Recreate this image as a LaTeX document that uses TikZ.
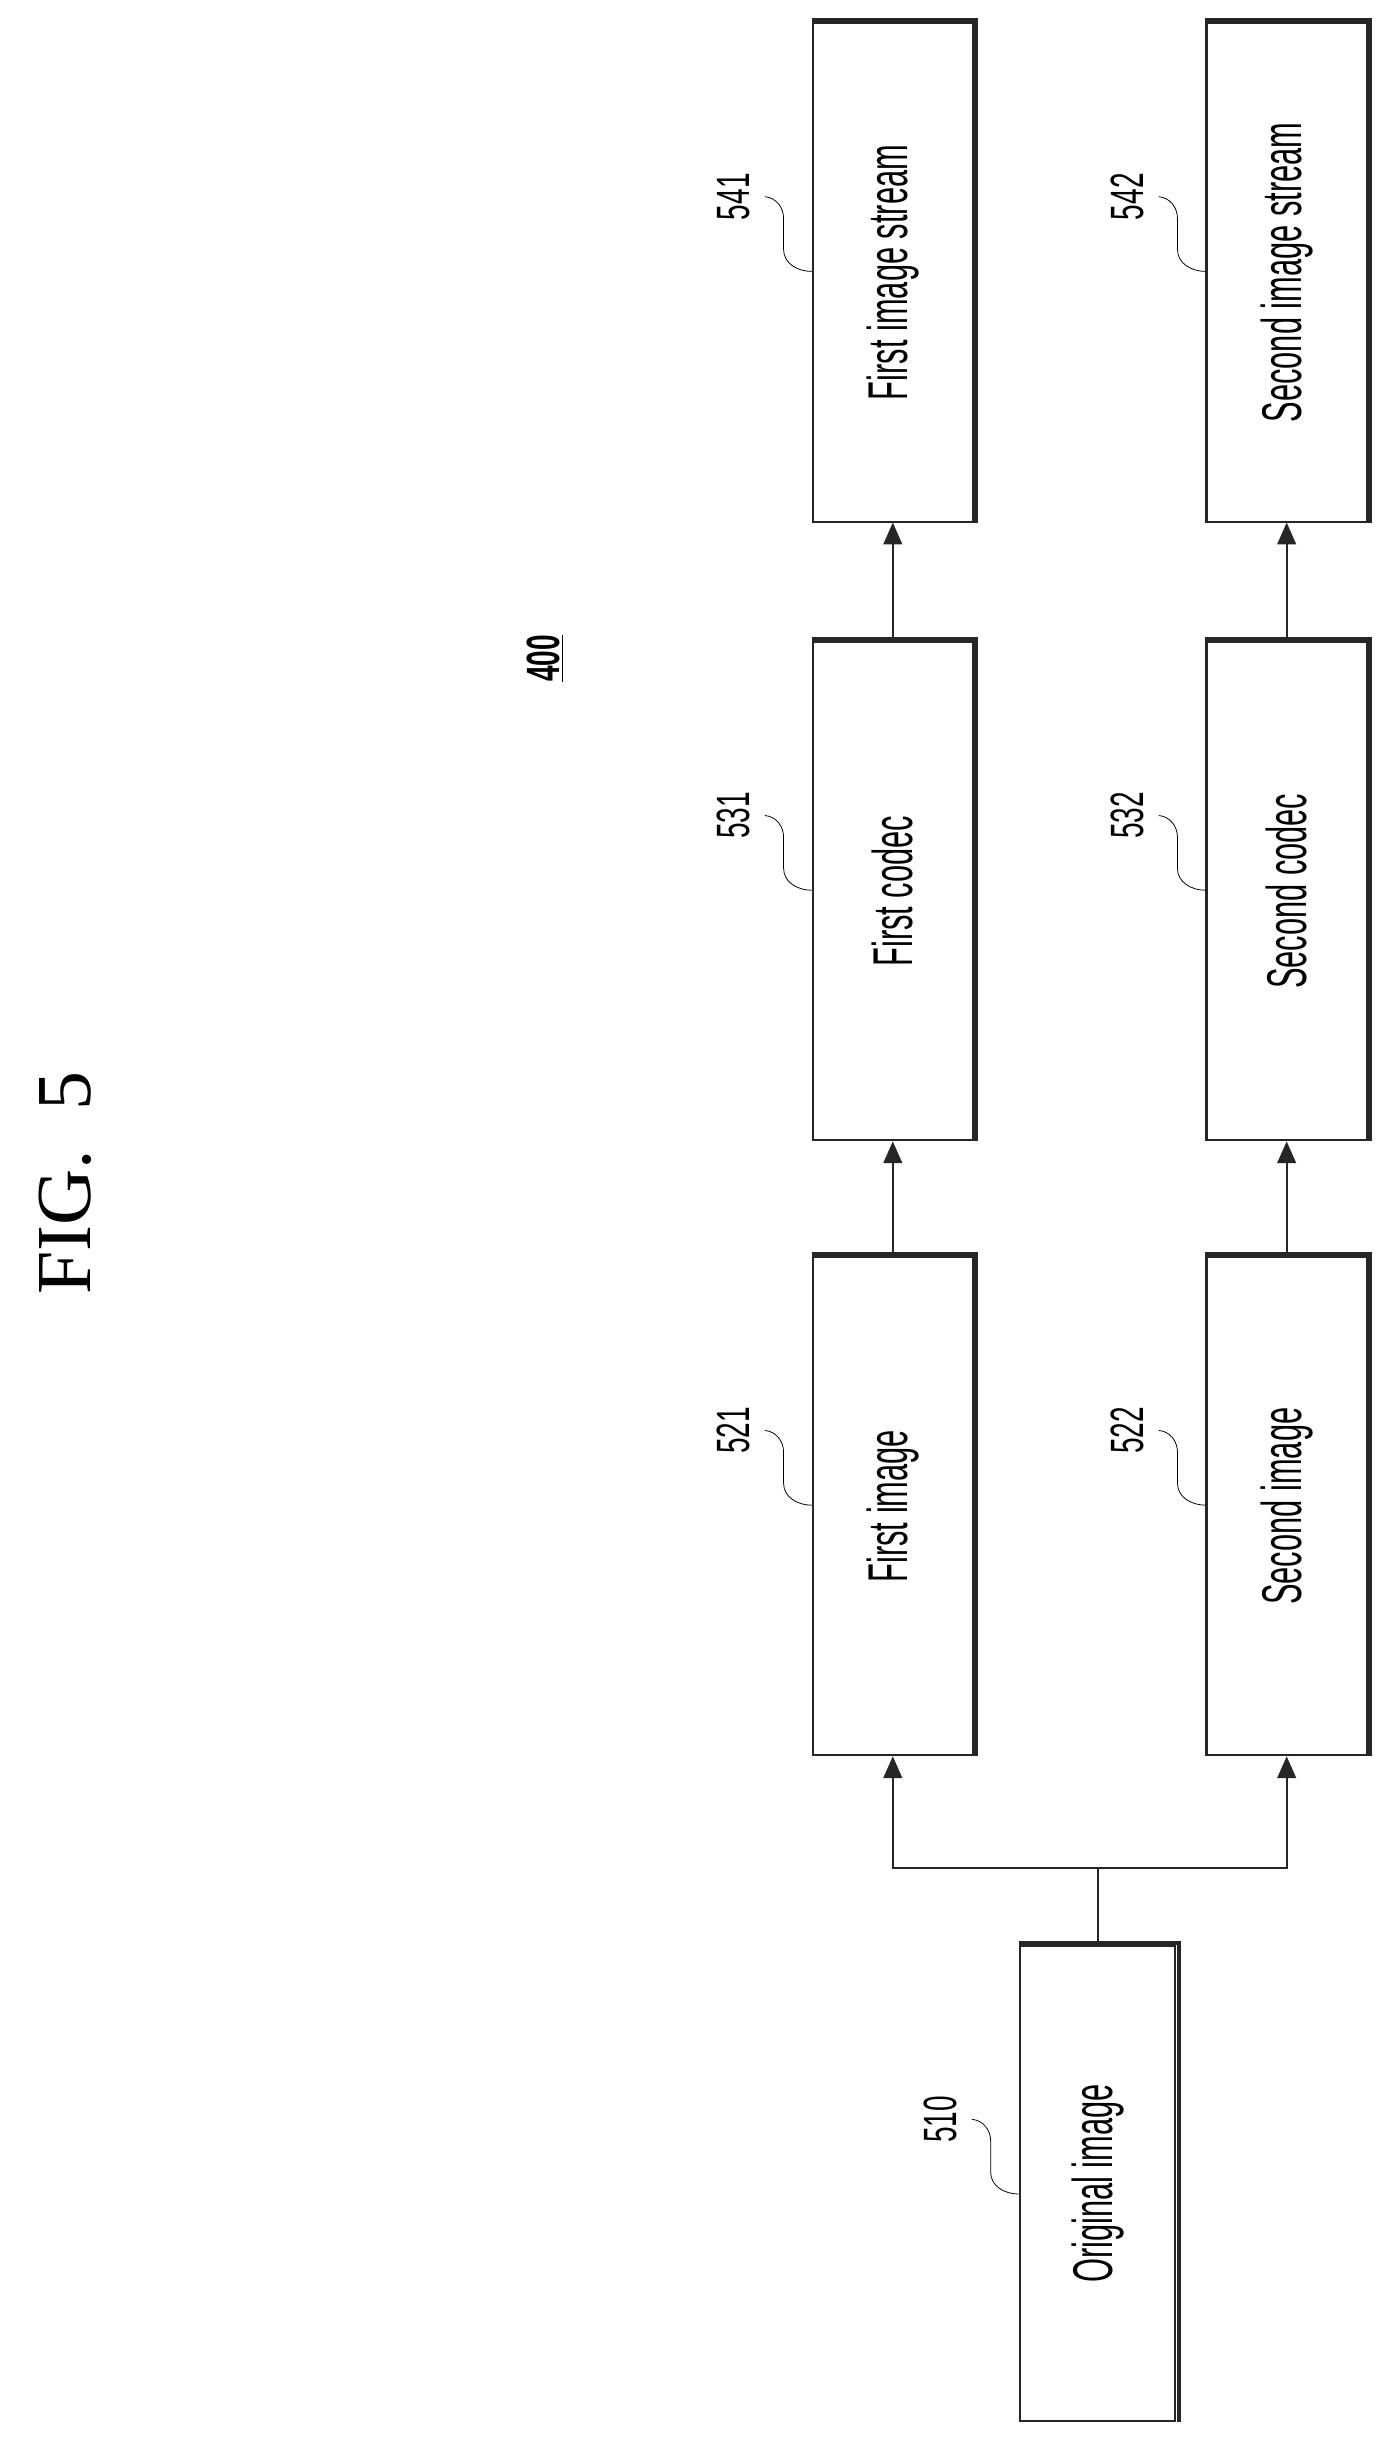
\documentclass[tikz,border=0pt]{standalone}
\usepackage{fontspec}
\setmainfont{Liberation Sans}
\newfontfamily\figfont{Liberation Serif}
\usetikzlibrary{arrows.meta}
\begin{document}
\begin{tikzpicture}[x=1pt,y=1pt,
  box/.style={draw=black!85, line width=1.3pt, minimum width=103, minimum height=320, inner sep=0pt},
  lbl/.style={rotate=90, font=\fontsize{36}{40}\selectfont, inner sep=0pt},
  num/.style={rotate=90, font=\fontsize{30}{32}\selectfont, inner sep=0pt},
  arr/.style={line width=1.3pt, draw=black!85, -{Triangle[length=14pt,width=12pt]}},
  lead/.style={line width=0.5pt}]
\useasboundingbox (0,0) rectangle (890,-1568);
\node[rotate=90, font=\figfont\fontsize{50}{55}\selectfont] (fig) at (42,-760) {FIG.~~5};
\node[num] (n400) at (350,-423) {\underline{\scalebox{0.6}[1]{\textbf{400}}}};
% boxes
\node[box] (b541) at (573.5,-175) {\rotatebox{90}{\scalebox{0.55}[1]{\fontsize{36}{40}\selectfont First image stream}}};
\node[box] (b531) at (573.5,-572.5) {\rotatebox{90}{\scalebox{0.55}[1]{\fontsize{36}{40}\selectfont First codec}}};
\node[box] (b521) at (573.5,-967.5) {\rotatebox{90}{\scalebox{0.55}[1]{\fontsize{36}{40}\selectfont First image}}};
\node[box] (b542) at (826.5,-175) {\rotatebox{90}{\scalebox{0.55}[1]{\fontsize{36}{40}\selectfont Second image stream}}};
\node[box] (b532) at (826.5,-572.5) {\rotatebox{90}{\scalebox{0.55}[1]{\fontsize{36}{40}\selectfont Second codec}}};
\node[box] (b522) at (826.5,-967.5) {\rotatebox{90}{\scalebox{0.55}[1]{\fontsize{36}{40}\selectfont Second image}}};
\node[box, minimum width=100, minimum height=305] (b510) at (705,-1402.5) {\rotatebox{90}{\scalebox{0.55}[1]{\fontsize{36}{40}\selectfont Original image}}};
% shadows
\foreach \b in {b541,b531,b521,b542,b532,b522,b510}{
  \draw[line width=2.6pt, black!85] ([xshift=1.5pt]\b.south east) -- ([xshift=1.5pt,yshift=1.5pt]\b.north east) -- ([yshift=1.5pt]\b.north west);
}
% connectors
\coordinate (j) at (705,-1200);
\draw[line width=1.3pt, black!85] (b510.north) -- (j);
\draw[arr] (j) -| (b521.south);
\draw[arr] (j) -| (b522.south);
\draw[arr] (b521.north) -- (b531.south);
\draw[arr] (b531.north) -- (b541.south);
\draw[arr] (b522.north) -- (b532.south);
\draw[arr] (b532.north) -- (b542.south);
% reference numbers
\foreach \b/\t in {b541/541,b531/531,b521/521,b542/542,b532/532,b522/522,b510/510}{
  \node[num] (n\t) at ([xshift=-50pt,yshift=-112pt]\b.north west) {\scalebox{0.6}[1]{\t}};
  \coordinate (s\t) at ([xshift=-30pt,yshift=-112pt]\b.north west);
  \coordinate (e\t) at ([yshift=-160pt]\b.north west);
  \draw[lead] (s\t) to[out=-5,in=90] ++(12,-14) -- ++(0,-20) to[out=-90,in=180] (e\t);
}
\end{tikzpicture}
\end{document}
